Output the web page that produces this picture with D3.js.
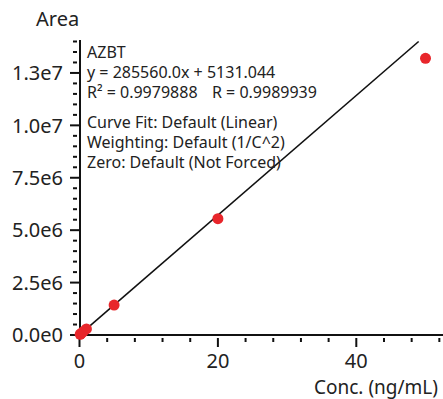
<!DOCTYPE html>
<html>
<head>
<meta charset="utf-8">
<script src="https://cdn.jsdelivr.net/npm/d3@7"></script>
<style>
  body { margin: 0; background: #fff; }
  text { font-family: "Noto Sans", "Open Sans", sans-serif; fill: #222; }
</style>
</head>
<body>
<svg id="chart" width="443" height="399"></svg>
<script>
// calibration points
var conc = [0.1, 0.2, 0.5, 1, 5, 20, 50];
var area = [3.2e4, 6.0e4, 1.5e5, 2.9e5, 1.43e6, 5.55e6, 1.32e7];

// fit
var slope = 285560.0, intercept = 5131.044;

var xMajor = [0, 20, 40];
var yMajor = [0, 2.5e6, 5e6, 7.5e6, 1e7, 1.25e7];

var infoLines = [
  'AZBT',
  'y = 285560.0x + 5131.044',
  'R\u00B2 = 0.9979888',
  'Curve Fit: Default (Linear)',
  'Weighting: Default (1/C^2)',
  'Zero: Default (Not Forced)'
];
var infoBase = [58, 78, 98, 128, 148, 168];

var svg = d3.select('#chart');

var x = d3.scaleLinear().domain([0, 52.6]).range([79.5, 79.5 + 52.6 * 6.92]);
var y = d3.scaleLinear().domain([0, 1.4e7]).range([335, 41.5]);

var xMinor = d3.range(0, 53, 4).filter(d => xMajor.indexOf(d) < 0);
var yMinor = d3.range(0, 1.4e7 + 1, 5e5).filter(d => yMajor.indexOf(d) < 0);

// x axis
var xAxis = svg.append('g').attr('transform', 'translate(0,335)');
xAxis.append('line')
  .attr('x1', 70).attr('x2', 443)
  .attr('stroke', '#111').attr('stroke-width', 2);
xAxis.selectAll('.xmaj').data(xMajor).enter().append('line')
  .attr('x1', d => x(d)).attr('x2', d => x(d))
  .attr('y1', 3).attr('y2', 12)
  .attr('stroke', '#111').attr('stroke-width', 2);
xAxis.selectAll('.xmin').data(xMinor).enter().append('line')
  .attr('x1', d => x(d)).attr('x2', d => x(d))
  .attr('y1', 3).attr('y2', 7)
  .attr('stroke', '#111').attr('stroke-width', 2);
xAxis.selectAll('.xlab').data(xMajor).enter().append('text')
  .attr('x', d => x(d)).attr('y', 33)
  .attr('text-anchor', 'middle')
  .style('font-size', '20px')
  .text(d => d);

svg.append('text')
  .attr('x', 438).attr('y', 394)
  .attr('text-anchor', 'end')
  .style('font-size', '19px')
  .text('Conc. (ng/mL)');

// y axis
var yAxis = svg.append('g').attr('transform', 'translate(80,0)');
yAxis.append('line')
  .attr('y1', 40).attr('y2', 336)
  .attr('stroke', '#111').attr('stroke-width', 2);
yAxis.selectAll('.ymaj').data(yMajor).enter().append('line')
  .attr('y1', d => y(d)).attr('y2', d => y(d))
  .attr('x1', -10).attr('x2', -1)
  .attr('stroke', '#111').attr('stroke-width', 2);
yAxis.selectAll('.ymin').data(yMinor).enter().append('line')
  .attr('y1', d => y(d)).attr('y2', d => y(d))
  .attr('x1', -7).attr('x2', -3)
  .attr('stroke', '#111').attr('stroke-width', 2);
yAxis.selectAll('.ylab').data(yMajor).enter().append('text')
  .attr('x', -17).attr('y', d => y(d))
  .attr('dy', '0.36em')
  .attr('text-anchor', 'end')
  .style('font-size', '20px')
  .text(d => d.toExponential(1).replace('e+', 'e'));

svg.append('text')
  .attr('x', 36).attr('y', 26)
  .style('font-size', '20px')
  .text('Area');

// regression line, clipped at top of plot
var xEnd = (y.domain()[1] - intercept) / slope;
svg.append('line')
  .attr('x1', x(0)).attr('y1', y(intercept))
  .attr('x2', x(xEnd)).attr('y2', y(slope * xEnd + intercept))
  .attr('stroke', '#111').attr('stroke-width', 1.6);

// points
svg.selectAll('.pt').data(conc).enter().append('circle')
  .attr('cx', d => x(d))
  .attr('cy', (d, i) => y(area[i]))
  .attr('r', 5.5)
  .attr('fill', '#e8262b');

// info text
var info = svg.append('g');
info.selectAll('text').data(infoLines).enter().append('text')
  .attr('x', 87).attr('y', (d, i) => infoBase[i])
  .style('font-size', '16px')
  .text(d => d);
info.append('text')
  .attr('x', 212).attr('y', infoBase[2])
  .style('font-size', '16px')
  .text('R = 0.9989939');
</script>
</body>
</html>
